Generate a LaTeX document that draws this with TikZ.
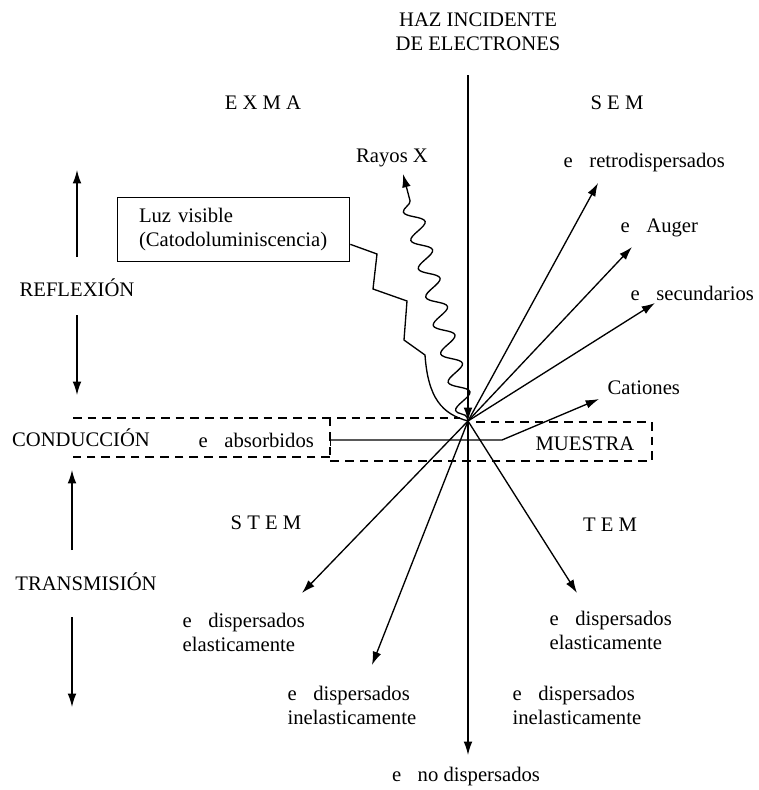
\documentclass[tikz,border=0pt]{standalone}
\usepackage{fontspec}
\setmainfont{Liberation Serif}
\usetikzlibrary{arrows.meta,decorations.pathmorphing}
\newcommand\elec{e\hspace{0.8em}}
\tikzset{
	rayo/.style={-{Latex[length=10pt,width=6.5pt]}},
	caja/.style={dash pattern=on 6.5pt off 4.5pt},
	lbl/.style={anchor=west,align=left,inner sep=0pt},
}
\begin{document}
\begin{tikzpicture}[x=0.75pt,y=-0.75pt,font=\fontsize{15.5}{18}\selectfont,line width=1pt]
		\useasboundingbox (0,0) rectangle (759,790);
		\node[align=center] at (478,32)(haz){HAZ INCIDENTE\\DE ELECTRONES};
		\coordinate (o) at (468,421);
		\coordinate (b) at (468,75);
		\path[rayo](b)edge(o);

		\node at (263,103)(exma){E X M A};
		\node at (617,103)(sem){S E M};
		\node at (266,523)(stem){S T E M};
		\node at (610,525)(tem){T E M};

		\node at (77,288)(refl){REFLEXIÓN};
		\node at (81,438)(cond){CONDUCCIÓN};
		\node at (86,582)(trans){TRANSMISIÓN};
		\coordinate (r1) at (77,257);
		\coordinate (r1t) at (77,170);
		\coordinate (r2) at (77,315);
		\coordinate (r2t) at (77,395);
		\coordinate (t1) at (72,550);
		\coordinate (t1t) at (72,470);
		\coordinate (t2) at (72,617);
		\coordinate (t2t) at (72,707);
		\path[rayo](r1)edge(r1t)(r2)edge(r2t)(t1)edge(t1t)(t2)edge(t2t);

		\draw[caja](330,457)--(73,457);
		\draw[caja](73,418)--(460,418);
		\draw[caja](476,422)--(652,422)--(652,461)--(330,461)--(330,418);
		\node at (585,444)(muestra){MUESTRA};
		\node[lbl] at (198,440)(abs){\elec absorbidos};

		\node at (392,158)(rayos){Rayos X};
		\coordinate (trx) at (403,174);
		\draw[rayo,decorate,decoration={snake,amplitude=7pt,segment length=22pt,pre length=3pt,post length=10pt}](o)--(trx);

		\node[draw,anchor=north west,align=left,text width=142pt,inner xsep=16pt,minimum height=48pt] at (117,197)(luz){Luz visible\\(Catodoluminiscencia)};
		\draw([yshift=-11pt]luz.east)--(377,254)--(373,289)--(407,301)--(404,340)--(425,355) .. controls (428,398) and (442,414) .. (o);

		\node[lbl] at (563,163)(ret){\elec retrodispersados};
		\node[lbl] at (620,228)(aug){\elec Auger};
		\node[lbl] at (630,293)(sec){\elec secundarios};
		\node[lbl] at (607,388)(cat){Cationes};
		\coordinate (tret) at (598,183);
		\coordinate (taug) at (632,247);
		\coordinate (tsec) at (655,303);
		\path[rayo](o)edge(tret)(o)edge(taug)(o)edge(tsec);
		\coordinate (tabs) at (330,440);
		\coordinate (codo) at (502,440);
		\coordinate (tcat) at (599,399);
		\draw[{Bar[width=9pt]}-{Latex[length=10pt,width=6.5pt]}](tabs)--(codo)--(tcat);

		\node[lbl] at (182,632)(ela){\elec dispersados\\elasticamente};
		\node[lbl] at (287,705)(inel){\elec dispersados\\inelasticamente};
		\node[lbl] at (549,630)(ela2){\elec dispersados\\elasticamente};
		\node[lbl] at (512,705)(inel2){\elec dispersados\\inelasticamente};
		\node at (466,777)(nodis){\elec no dispersados};
		\coordinate (tela) at (302,593);
		\coordinate (tin) at (372,665);
		\coordinate (tno) at (468,755);
		\coordinate (tela2) at (577,593);
		\path[rayo](o)edge(tela)(o)edge(tin)(o)edge(tno)(o)edge(tela2);
	\end{tikzpicture}
\end{document}
